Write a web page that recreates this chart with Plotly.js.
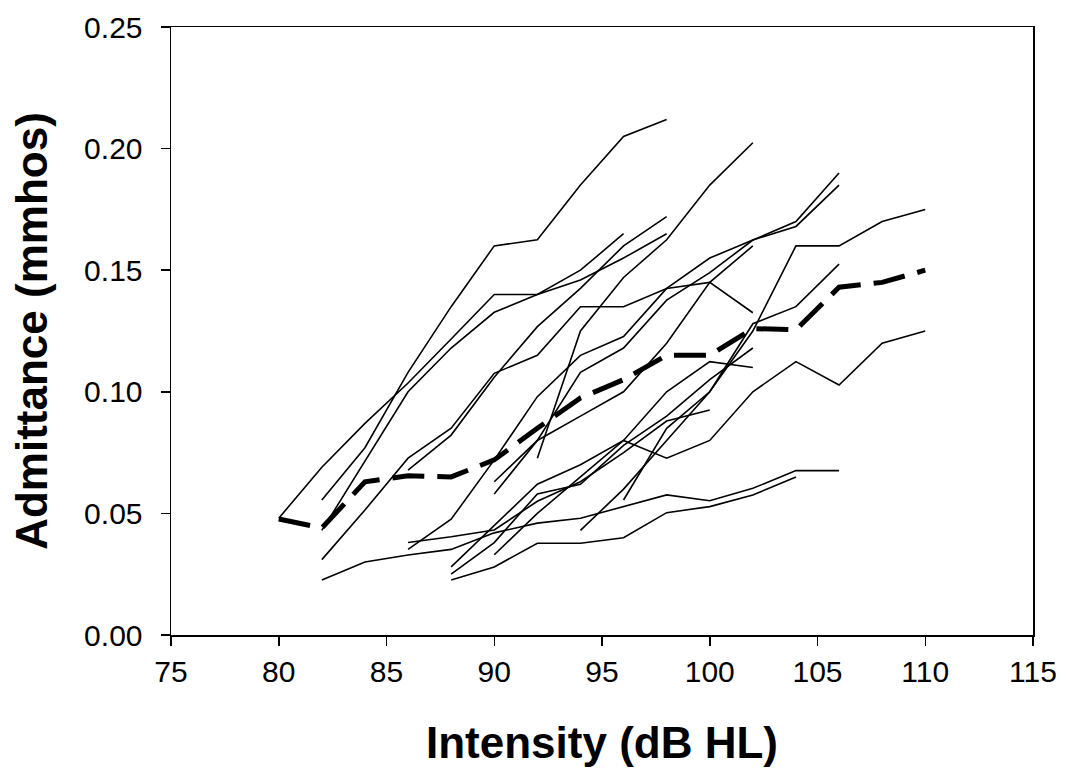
<!DOCTYPE html>
<html>
<head>
<meta charset="utf-8">
<script src="https://cdn.plot.ly/plotly-3.0.1.min.js"></script>
<style>html,body{margin:0;padding:0;background:#fff;}#chart{width:1067px;height:770px;}</style>
</head>
<body>
<div id="chart"></div>
<script>
// Individual subjects: x = intensity (dB HL), y = admittance (mmhos)
const s1x = [80,82,84,86,88,90,92,94,96];
const s1y = [0.048,0.069,0.087,0.1036,0.1217,0.140,0.140,0.150,0.165];
const s2x = [82,84,86,88,90,92,94,96,98];
const s2y = [0.0555,0.077,0.108,0.135,0.160,0.1625,0.185,0.205,0.212];
const s3x = [82,84,86,88,90,92,94,96,98,100,102];
const s3y = [0.031,0.0514,0.0727,0.085,0.1076,0.115,0.135,0.135,0.1425,0.145,0.1325];
const s4x = [82,84,86,88,90,92,94,96,98,100,102,104,106];
const s4y = [0.0226,0.030,0.0329,0.0352,0.042,0.046,0.048,0.0528,0.0576,0.0552,0.0603,0.0676,0.0676];
const s5x = [86,88,90,92,94,96,98];
const s5y = [0.0678,0.0822,0.106,0.1268,0.1425,0.160,0.172];
const s6x = [82,84,86,88,90,92,94,96,98];
const s6y = [0.043,0.0717,0.100,0.118,0.1327,0.140,0.146,0.155,0.165];
const s7x = [86,88,90,92,94,96,98,100];
const s7y = [0.038,0.0404,0.0432,0.055,0.063,0.075,0.088,0.0925];
const s8x = [86,88,90,92,94,96,98,100,102,104,106];
const s8y = [0.0352,0.0476,0.072,0.098,0.115,0.1227,0.1425,0.155,0.1624,0.170,0.190];
const s9x = [88,90,92,94,96,98,100,102];
const s9y = [0.028,0.045,0.062,0.070,0.080,0.100,0.1124,0.110];
const s10x = [88,90,92,94,96,98,100,102];
const s10y = [0.025,0.038,0.058,0.062,0.078,0.090,0.105,0.118];
const s11x = [88,90,92,94,96,98,100,102,104];
const s11y = [0.0226,0.028,0.0377,0.0377,0.040,0.0503,0.0528,0.0576,0.065];
const s12x = [90,92,94,96,98,100,102,104,106];
const s12y = [0.063,0.080,0.108,0.118,0.1377,0.149,0.1624,0.168,0.185];
const s13x = [90,92,94,96,98,100,102];
const s13y = [0.058,0.080,0.090,0.100,0.120,0.145,0.160];
const s14x = [90,92,94,96,98,100,102,104,106,108,110];
const s14y = [0.033,0.050,0.065,0.080,0.0727,0.080,0.100,0.1124,0.1028,0.120,0.125];
const s15x = [92,94,96,98,100,102];
const s15y = [0.0727,0.125,0.147,0.1625,0.185,0.2024];
const s16x = [94,96,98,100,102,104,106];
const s16y = [0.043,0.060,0.080,0.100,0.128,0.135,0.1525];
const s17x = [96,98,100,102,104,106,108,110];
const s17y = [0.0555,0.085,0.100,0.125,0.160,0.160,0.170,0.175];
// Mean curve
const meanX = [80,82,84,86,88,90,92,94,96,98,100,102,104,106,108,110];
const meanY = [0.0477,0.044,0.063,0.0655,0.065,0.072,0.085,0.0975,0.105,0.115,0.115,0.126,0.1255,0.143,0.145,0.150];

const xTickVals = [75,80,85,90,95,100,105,110,115];
const yTickVals = [0,0.05,0.10,0.15,0.20,0.25];
const yTickText = ['0.00','0.05','0.10','0.15','0.20','0.25'];

const subjects = [
  [s1x,s1y],[s2x,s2y],[s3x,s3y],[s4x,s4y],[s5x,s5y],[s6x,s6y],[s7x,s7y],[s8x,s8y],
  [s9x,s9y],[s10x,s10y],[s11x,s11y],[s12x,s12y],[s13x,s13y],[s14x,s14y],[s15x,s15y],
  [s16x,s16y],[s17x,s17y]
];

const traces = subjects.map(([x,y]) => ({
  x: x, y: y, type: 'scatter', mode: 'lines',
  line: {color: '#000', width: 1.6},
  hoverinfo: 'skip', showlegend: false
}));
traces.push({
  x: meanX, y: meanY, type: 'scatter', mode: 'lines',
  line: {color: '#000', width: 5, dash: '32px,13px'},
  showlegend: false
});

const axisFont = {family: 'Liberation Sans, Arial, sans-serif', size: 30, color: '#000'};
const titleFont = {family: 'Liberation Sans, Arial, sans-serif', size: 44, color: '#000', weight: 'bold'};

const layout = {
  width: 1067, height: 770,
  margin: {l: 171, r: 34, t: 27, b: 135},
  paper_bgcolor: '#fff', plot_bgcolor: '#fff',
  showlegend: false,
  xaxis: {
    range: [75,115], tickvals: xTickVals, ticktext: xTickVals.map(String),
    ticks: 'outside', ticklen: 9, tickwidth: 1.5, tickcolor: '#000',
    showline: true, linecolor: '#000', linewidth: 1.5, mirror: true,
    showgrid: false, zeroline: false, tickfont: axisFont, automargin: false,
    title: {text: '<b>Intensity (dB HL)</b>', font: titleFont, standoff: 40}
  },
  yaxis: {
    range: [0,0.25], tickvals: yTickVals, ticktext: yTickText,
    ticks: 'outside', ticklen: 9, tickwidth: 1.5, tickcolor: '#000',
    ticklabelstandoff: 12,
    showline: true, linecolor: '#000', linewidth: 1.5, mirror: true,
    showgrid: false, zeroline: false, tickfont: axisFont, automargin: false,
    title: {text: '<b>Admittance (mmhos)</b>', font: titleFont, standoff: 22}
  }
};

Plotly.newPlot('chart', traces, layout, {staticPlot: true, displayModeBar: false});
</script>
</body>
</html>
